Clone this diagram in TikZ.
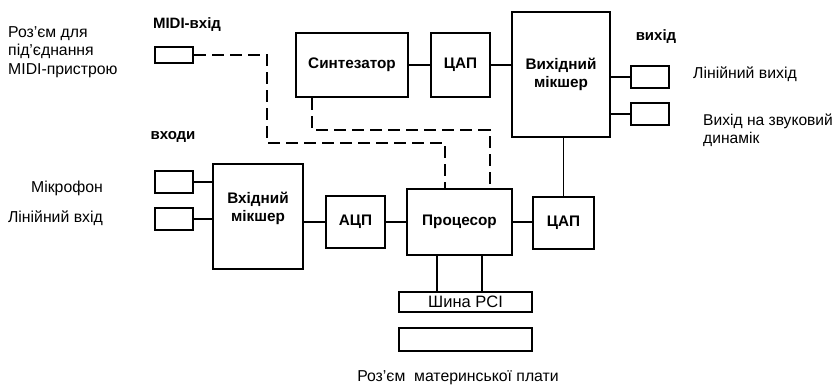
\documentclass[tikz,border=0pt]{standalone}
\usepackage{fontspec}
\setmainfont{Liberation Sans}
\usetikzlibrary{positioning}

\begin{document}
\begin{tikzpicture}[
      x=1pt, y=-1pt,
      block_box/.style={rectangle, draw, line width=2.4pt, inner sep=0pt,
        font=\fontsize{15.3}{18}\selectfont\bfseries, align=center},
      conn_box/.style={rectangle, draw, line width=2.2pt, inner sep=0pt,
        minimum width=38pt, minimum height=22pt},
      sig_line/.style={line width=1.6pt},
      ctrl_path/.style={line width=1.6pt, dash pattern=on 12pt off 6pt},
      lbl_text/.style={font=\fontsize{15.8}{18}\selectfont, inner sep=0pt},
      head_text/.style={font=\fontsize{15}{18}\selectfont\bfseries, inner sep=0pt}
    ]
      \useasboundingbox (0,0) rectangle (834,388);

      % blocks
      \node[block_box, minimum width=112pt, minimum height=64pt] (synth) at (352,65) {Синтезатор};
      \node[block_box, minimum width=59pt, minimum height=64pt] (dac_top) at (460.5,65) {ЦАП};
      \node[block_box, minimum width=98pt, minimum height=125pt] (out_mix) at (561,74.5) {Вихідний\\мікшер};
      \node[block_box, minimum width=61pt, minimum height=52pt] (dac_bot) at (563.5,223) {ЦАП};
      \node[block_box, minimum width=105pt, minimum height=66pt] (cpu) at (459.5,222) {Процесор};
      \node[block_box, minimum width=59pt, minimum height=52pt] (adc) at (355.5,222) {АЦП};
      \node[block_box, minimum width=90pt, minimum height=105pt] (in_mix) at (258,216.5) {};
      \node[font=\fontsize{15.3}{18}\selectfont\bfseries, align=center] at ([yshift=8pt]in_mix.center) {Вхідний\\мікшер};
      \node[block_box, font=\fontsize{16.5}{18}\selectfont, minimum width=133pt, minimum height=20pt] (pci) at (465.5,302) {Шина PCI};
      \node[block_box, minimum width=133pt, minimum height=23pt] (slot) at (465.5,339.5) {};

      % connectors
      \node[conn_box, minimum height=16pt] (midi) at (174,55) {};
      \node[conn_box] (line_out) at (650,77) {};
      \node[conn_box] (spk_out) at (650,114) {};
      \node[conn_box] (mic) at (174,182) {};
      \node[conn_box] (line_in) at (174,219) {};

      % labels
      \node[head_text] (midi_lbl) at (187,25) {MIDI-вхід};
      \node[lbl_text, anchor=west, align=left, font=\fontsize{15.8}{18.5}\selectfont] (midi_txt) at (8,52) {Роз’єм для\\під’єднання\\MIDI-пристрою};
      \node[head_text] (out_lbl) at (656,37) {вихід};
      \node[lbl_text, anchor=west] (line_out_txt) at (693,74) {Лінійний вихід};
      \node[lbl_text, anchor=west, align=left, font=\fontsize{15.6}{18}\selectfont] (spk_txt) at (703,130) {Вихід на звуковий\\динамік};
      \node[head_text] (in_lbl) at (173,137) {входи};
      \node[lbl_text, anchor=east] (mic_txt) at (103,188) {Мікрофон};
      \node[lbl_text, anchor=east] (line_in_txt) at (103,218) {Лінійний вхід};
      \node[lbl_text] (slot_txt) at (458,378) {Роз’єм\ \ материнської плати};

      % signal lines
      \draw[sig_line] (synth.east) -- (dac_top.west);
      \draw[sig_line] (dac_top.east) -- (dac_top.east -| out_mix.west);
      \draw[sig_line] (line_out.west -| out_mix.east) -- (line_out.west);
      \draw[sig_line] (spk_out.west -| out_mix.east) -- (spk_out.west);
      \draw[sig_line] (dac_bot.north |- out_mix.south) -- (dac_bot.north);
      \draw[sig_line] (cpu.east) -- (cpu.east -| dac_bot.west);
      \draw[sig_line] (adc.east) -- (cpu.west);
      \draw[sig_line] (adc.west -| in_mix.east) -- (adc.west);
      \draw[sig_line] (mic.east) -- (mic.east -| in_mix.west);
      \draw[sig_line] (line_in.east) -- (line_in.east -| in_mix.west);
      \coordinate (bus_a) at ([xshift=-22.5pt]cpu.south);
      \coordinate (bus_b) at ([xshift=22.5pt]cpu.south);
      \draw[sig_line] (bus_a) -- (bus_a |- pci.north);
      \draw[sig_line] (bus_b) -- (bus_b |- pci.north);

      % control (dashed) paths
      \coordinate (midi_bend) at (267,143);
      \coordinate (synth_bend) at (312,130);
      \draw[ctrl_path] (midi.east) -| (midi_bend) -| ([xshift=-14.5pt]cpu.north);
      \draw[ctrl_path] (synth_bend |- synth.south) -- (synth_bend) -| ([xshift=30.5pt]cpu.north);
    \end{tikzpicture}
\end{document}
